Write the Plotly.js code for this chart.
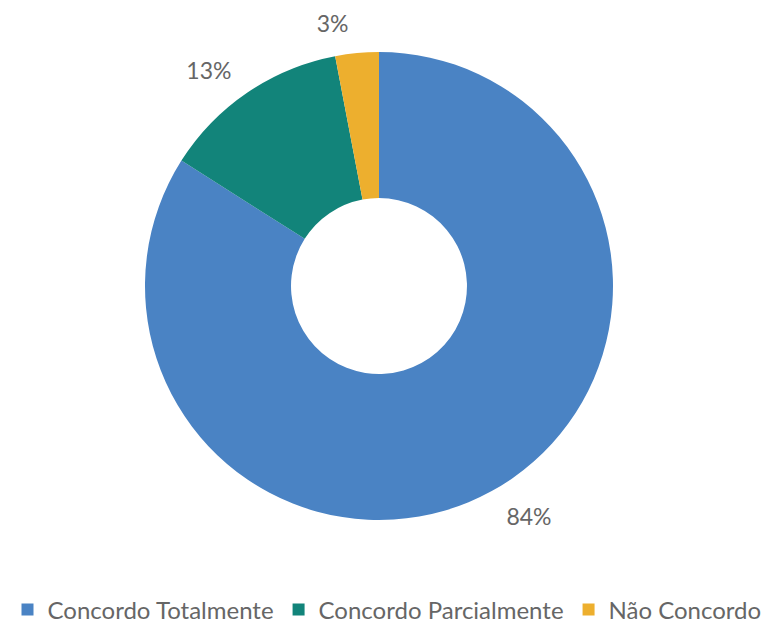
<!DOCTYPE html>
<html><head><meta charset="utf-8">
<script src="https://cdn.plot.ly/plotly-3.0.1.min.js"></script>
<style>html,body{margin:0;padding:0;background:#fff}#chart{width:774px;height:623px}</style>
</head><body><div id="chart"></div>
<script>
const categories = ["Concordo Totalmente", "Concordo Parcialmente", "Não Concordo"];
const values = [84, 13, 3];
const colors = ["#4A83C4", "#12847A", "#EDAF2E"];

const W = 774, H = 623, cx = 379, cy = 286, R = 234, Rlab = 250;
const FONT = "Lato, 'Open Sans', sans-serif";
const dom = (r) => ({x: [(cx - r) / W, (cx + r) / W], y: [(H - cy - r) / H, (H - cy + r) / H]});

// visible donut
const donut = {
  type: 'pie',
  labels: categories,
  values: values,
  hole: 0.376,
  sort: false,
  direction: 'clockwise',
  rotation: 0,
  marker: {colors: colors, line: {color: '#ffffff', width: 0}},
  textinfo: 'none',
  automargin: false,
  domain: dom(R),
  hoverinfo: 'label+percent'
};
// transparent ring used only to place percentage labels a little further out
const labelRing = {
  type: 'pie',
  labels: categories,
  values: values,
  hole: 0.9,
  sort: false,
  direction: 'clockwise',
  rotation: 0,
  showlegend: false,
  marker: {colors: ['rgba(0,0,0,0)', 'rgba(0,0,0,0)', 'rgba(0,0,0,0)'], line: {width: 0}},
  texttemplate: '%{percent:.0%}',
  textposition: 'outside',
  outsidetextfont: {family: FONT, size: 23, color: '#666666'},
  automargin: false,
  domain: dom(Rlab),
  hoverinfo: 'skip'
};
const layout = {
  width: W, height: H,
  margin: {l: 0, r: 0, t: 0, b: 0, autoexpand: false},
  paper_bgcolor: '#ffffff',
  showlegend: true,
  legend: {
    orientation: 'h', x: 0.5, xanchor: 'center', y: 0.021, yanchor: 'middle',
    font: {family: FONT, size: 24, color: '#666666'},
    traceorder: 'normal'
  },
  font: {family: FONT, color: '#666666'}
};
Plotly.newPlot('chart', [donut, labelRing], layout, {displayModeBar: false, staticPlot: true});
</script></body></html>
